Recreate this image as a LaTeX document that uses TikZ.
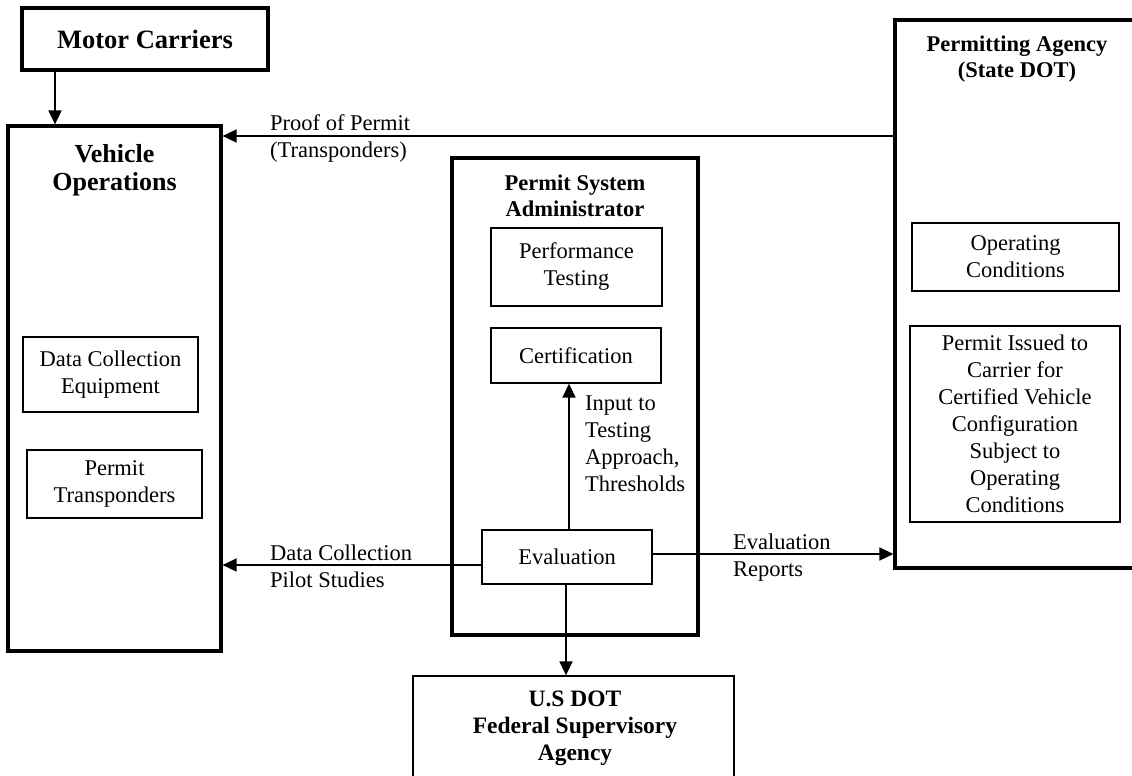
\documentclass[tikz,border=0pt]{standalone}
\usepackage{fontspec}
\setmainfont{Liberation Serif}
\usetikzlibrary{arrows.meta}
\newcommand{\dgnormal}{\fontsize{22.5}{27}\selectfont}
\newcommand{\dgboldA}{\fontsize{26.5}{28}\selectfont\bfseries}
\newcommand{\dgboldB}{\fontsize{26}{28}\selectfont\bfseries}
\newcommand{\dgboldC}{\fontsize{22.5}{26.5}\selectfont\bfseries}
\newcommand{\dgboldD}{\fontsize{23.5}{27}\selectfont\bfseries}
\begin{document}
\begin{tikzpicture}[x=1pt,y=-1pt,
  thickbox/.style={draw,line width=3.2pt,inner sep=0pt},
  thinbox/.style={draw,line width=1.3pt,inner sep=0pt,align=center,font=\dgnormal},
  title/.style={inner sep=0pt,align=center},
  lbl/.style={inner sep=0pt,align=left,font=\dgnormal,anchor=west},
  arr/.style={line width=1.6pt,-{Triangle[length=14pt,width=13pt]}}]
\useasboundingbox (0,0) rectangle (1132,776);
% containers
\node[thickbox,minimum width=246pt,minimum height=62pt,font=\dgboldA] (mc) at (145,39) {Motor Carriers};
\node[thickbox,minimum width=213pt,minimum height=525pt] (vo) at (114.5,388.5) {};
\node[title,font=\dgboldB] (vot) at (114.5,170) {Vehicle\\Operations};
\node[thickbox,minimum width=245pt,minimum height=548pt] (pa) at (1017.5,294) {};
\node[title,font=\dgboldC] (pat) at (1017,59) {Permitting Agency\\(State DOT)};
\node[thickbox,minimum width=246pt,minimum height=477pt] (psa) at (575,396.5) {};
\node[title,font=\dgboldC] (psat) at (575,196) {Permit System\\Administrator};
\node[draw,line width=1.3pt,inner sep=0pt,minimum width=321pt,minimum height=144pt] (us) at (573.5,748) {};
\node[title,font=\dgboldD] (ust) at (575,728) {U.S DOT\\Federal Supervisory\\Agency};
% inner boxes
\node[thinbox,minimum width=171pt,minimum height=78pt] (pt) at (576.5,267) {Performance\\Testing};
\node[thinbox,minimum width=170pt,minimum height=55pt] (cert) at (576,355.5) {Certification};
\node[thinbox,minimum width=170pt,minimum height=54pt] (eval) at (567,557) {Evaluation};
\node[thinbox,minimum width=207pt,minimum height=68pt] (oc) at (1015.5,257) {Operating\\Conditions};
\node[thinbox,minimum width=210pt,minimum height=196pt] (pi) at (1015,424) {Permit Issued to\\Carrier for\\Certified Vehicle\\Configuration\\Subject to\\Operating\\Conditions};
\node[thinbox,minimum width=175pt,minimum height=75pt] (dce) at (110.5,374.5) {Data Collection\\Equipment};
\node[thinbox,minimum width=175pt,minimum height=68pt] (ptr) at (114.5,484) {Permit\\Transponders};
% connectors
\coordinate (xmc) at (55,0);
\coordinate (yproof) at (0,136);
\coordinate (ydata) at (0,565);
\coordinate (yrep) at (0,554);
\coordinate (xin) at (569,0);
\coordinate (xus) at (566,0);
\draw[arr] (mc.south -| xmc) -- (vo.north -| xmc);
\draw[arr] (pa.west |- yproof) -- (vo.east |- yproof);
\draw[arr] (eval.west |- ydata) -- (vo.east |- ydata);
\draw[arr] (eval.east |- yrep) -- (pa.west |- yrep);
\draw[arr] (eval.north -| xin) -- (cert.south -| xin);
\draw[arr] (eval.south -| xus) -- (us.north -| xus);
% labels
\node[lbl] (lproof) at (270,138) {Proof of Permit\\(Transponders)};
\node[lbl] (ldata) at (270,566) {Data Collection\\Pilot Studies};
\node[lbl] (lrep) at (733,558) {Evaluation\\Reports};
\node[lbl] (lin) at (585,444) {Input to\\Testing\\Approach,\\Thresholds};
\end{tikzpicture}
\end{document}
